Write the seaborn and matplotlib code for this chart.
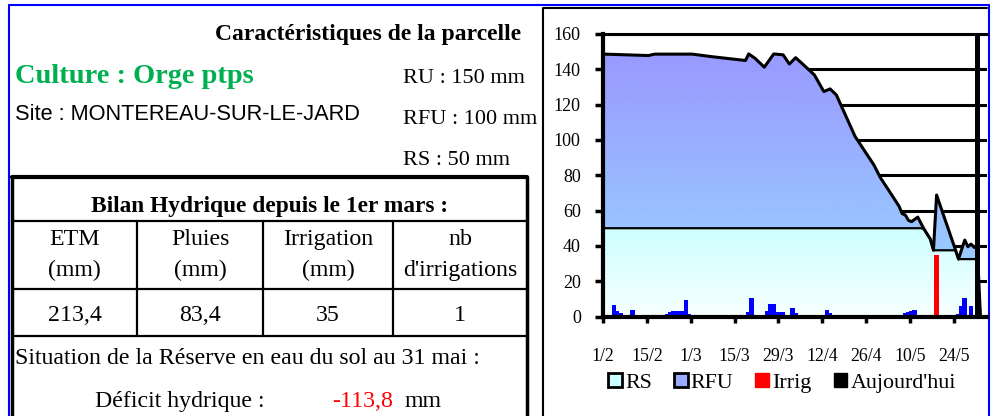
import numpy as np
import matplotlib
matplotlib.use("Agg")
import matplotlib.pyplot as plt
from matplotlib.colors import LinearSegmentedColormap
from matplotlib.patches import Patch
import seaborn as sns

# ---- values (day 0 = 1 February) ----
curve_day = [0, 14, 16, 28, 34, 45, 46, 48, 51, 54, 57, 59, 61, 63, 67, 70, 72, 74,
             80, 86, 88, 91, 94, 95, 96, 97, 98, 100, 101, 102, 104, 105, 106,
             112, 113, 114, 115, 116, 117, 118, 119, 120]
reserve_mm = [148.6, 147.8, 148.6, 148.6, 147.2, 145.0, 148.7, 146.3, 141.2, 148.7,
              148.2, 143.0, 146.6, 143.4, 136.8, 127.4, 128.9, 125.5, 101.9, 85.8,
              78.8, 70.7, 62.5, 58.3, 57.5, 54.5, 53.7, 56.3, 52.8, 49.5, 43.8,
              37.5, 68.8, 37.9, 32.5, 38.0, 43.3, 39.5, 41.0, 39.2, 38.6, 0.0]
rs_mm = [50.0] * 29 + [49.5, 43.8, 37.5, 37.5, 37.5, 32.5, 32.5, 32.5, 32.5,
                       32.5, 32.5, 32.5, 0.0]

rain_day = [1, 3, 4, 5, 9, 16, 17, 19, 20, 21, 22, 23, 24, 25, 26, 27, 46, 47, 52,
            53, 54, 55, 56, 57, 60, 61, 65, 71, 72, 87, 88, 89, 90, 96, 97, 98, 99,
            113, 114, 115, 117]
rain_mm = [1.0, 6.6, 3.2, 1.9, 3.6, 1.0, 1.0, 1.0, 1.5, 2.8, 3.2, 3.2, 3.2, 3.2, 9.2,
           1.3, 2.8, 10.2, 3.0, 6.8, 6.8, 2.4, 2.4, 2.4, 4.6, 1.9, 1.0, 3.5, 2.2, 1.0,
           1.0, 1.0, 1.0, 2.2, 2.8, 3.2, 3.8, 1.2, 6.2, 10.3, 5.8]
irrig_day = [106]
irrig_mm = [35]
today_day = [119]
today_mm = [160]

tick_day = [0, 14, 28, 42, 56, 70, 84, 98, 112]
tick_labels = ["1/2", "15/2", "1/3", "15/3", "29/3", "12/4", "26/4", "10/5", "24/5"]

bilan_head = ["ETM", "Pluies", "Irrigation", "nb"]
bilan_unit = ["(mm)", "(mm)", "(mm)", "d'irrigations"]
bilan_vals = ["213,4", "83,4", "35", "1"]

sns.set_theme(style="white")
plt.rcParams["font.family"] = ["Liberation Serif", "DejaVu Serif"]
plt.rcParams["text.color"] = "black"
plt.rcParams["xtick.color"] = "black"
plt.rcParams["ytick.color"] = "black"

W, H = 992, 416
fig = plt.figure(figsize=(W / 100, H / 100), dpi=100)

# background canvas in pixel coordinates for the dashboard part
bg = fig.add_axes([0, 0, 1, 1])
bg.set_xlim(0, W)
bg.set_ylim(H, 0)
bg.axis("off")

blue = "#0000FF"
bg.plot([9, 989], [4.5, 4.5], color=blue, lw=1.5)
bg.plot([9, 9], [4.5, H], color=blue, lw=1.5)
bg.plot([988.5, 988.5], [4.5, H], color=blue, lw=1.5)
bg.plot([543, 543, 987], [H, 8, 8], color="black", lw=1.5)

bg.text(521, 40, "Caractéristiques de la parcelle", ha="right", va="baseline",
        fontsize=17, fontweight="bold")
bg.text(15, 83, "Culture : Orge ptps", ha="left", va="baseline", fontsize=20.4,
        fontweight="bold", color="#00B050")
bg.text(15, 120, "Site : MONTEREAU-SUR-LE-JARD", ha="left", va="baseline",
        fontsize=15.7, family=["Liberation Sans", "DejaVu Sans"])
bg.text(403, 83, "RU : 150 mm", ha="left", va="baseline", fontsize=16)
bg.text(403, 124, "RFU : 100 mm", ha="left", va="baseline", fontsize=16)
bg.text(403, 165, "RS : 50 mm", ha="left", va="baseline", fontsize=16)

# water balance table
tl, tr, tt = 12, 527, 177
cols = [tl, 137, 263, 393, tr]
bg.plot([tl, tr], [tt, tt], color="black", lw=3)
bg.plot([tl, tl], [tt, H], color="black", lw=2.5)
bg.plot([tr, tr], [tt, H], color="black", lw=2.5)
for yy in [221, 289, 336]:
    bg.plot([tl, tr], [yy, yy], color="black", lw=1.6)
for xx in cols[1:-1]:
    bg.plot([xx, xx], [221, 336], color="black", lw=1.6)
bg.text((tl + tr) / 2, 212, "Bilan Hydrique depuis le 1er mars :", ha="center",
        va="baseline", fontsize=16.8, fontweight="bold")
for i in range(4):
    cx = (cols[i] + cols[i + 1]) / 2
    bg.text(cx, 245, bilan_head[i], ha="center", va="baseline", fontsize=17.2)
    bg.text(cx, 276, bilan_unit[i], ha="center", va="baseline", fontsize=17.2)
    bg.text(cx, 321, bilan_vals[i], ha="center", va="baseline", fontsize=17.2)
bg.text(15, 364, "Situation de la Réserve en eau du sol au 31 mai :", ha="left",
        va="baseline", fontsize=17.2)
bg.text(180, 407, "Déficit hydrique :", ha="center", va="baseline", fontsize=17.2)
bg.text(393, 407, "-113,8", ha="right", va="baseline", fontsize=17.2, color="#FF0000")
bg.text(405, 407, "mm", ha="left", va="baseline", fontsize=17.2)

# ---- soil water chart ----
ax = fig.add_axes([603 / W, 1 - 316.5 / H, (986.7 - 603) / W, (316.5 - 34) / H])
slot = 0.5  # points sit in the middle of their day
x = np.array(curve_day) + slot
top = np.array(reserve_mm)
rs = np.array(rs_mm)
xmax = 122.5

rfu_poly = ax.fill_between(x, rs, top, facecolor="none", edgecolor="none", lw=0)
rs_poly = ax.fill_between(x, 0, rs, facecolor="none", edgecolor="none", lw=0)


def gradient(coll, c_low, c_high, y0, y1):
    cmap = LinearSegmentedColormap.from_list("g", [c_low, c_high])
    im = ax.imshow(np.linspace(0, 1, 256).reshape(-1, 1), cmap=cmap, origin="lower",
                   extent=[0, xmax, y0, y1], aspect="auto", zorder=1,
                   interpolation="bilinear")
    im.set_clip_path(coll.get_paths()[0], transform=ax.transData)


gradient(rfu_poly, "#99CCFF", "#9999FF", 30, 150)
gradient(rs_poly, "#F8FFFF", "#CCFFFF", 0, 50)

sns.lineplot(x=x, y=rs, color="black", lw=1.6, ax=ax, estimator=None, sort=False,
             zorder=2)
sns.lineplot(x=x, y=top, color="black", lw=2.2, ax=ax, estimator=None, sort=False,
             zorder=2)

ax.bar(np.array(rain_day) + slot, rain_mm, width=1.5, color="#0000FF", lw=0, zorder=3)
ax.bar(np.array(irrig_day) + slot, irrig_mm, width=1.6, color="#FF0000", lw=0, zorder=3)
ax.bar(np.array(today_day) + slot, today_mm, width=1.7, color="black", lw=0, zorder=4)

ax.set_xlim(0, xmax)
ax.set_ylim(0, 160)
ax.set_yticks(range(0, 161, 20))
ax.yaxis.grid(True, color="black", lw=2.2)
ax.xaxis.grid(False)
ax.set_axisbelow(True)
ax.set_xticks(tick_day)
ax.set_xticklabels(tick_labels)
ax.set_xticks(np.arange(7, 121, 14), minor=True)
ax.tick_params(axis="x", which="major", direction="inout", length=9, width=2.5,
               color="black", pad=18, labelsize=12.8, bottom=True)
ax.tick_params(axis="x", which="minor", direction="in", length=3, width=2.5,
               color="black", bottom=True)
ax.tick_params(axis="y", which="major", direction="out", length=6, width=2.5,
               color="black", pad=10, labelsize=13, left=True)
for side in ["left", "bottom"]:
    ax.spines[side].set_color("black")
    ax.spines[side].set_linewidth(3)
    ax.spines[side].set_zorder(5)
ax.spines["top"].set_color("black")
ax.spines["top"].set_linewidth(2.2)
ax.spines["right"].set_visible(False)
ax.set_xlabel("")
ax.set_ylabel("")
ax.set_facecolor("white")

handles = [Patch(facecolor="#CCFFFF", edgecolor="black", lw=2, label="RS"),
           Patch(facecolor="#99AAFF", edgecolor="black", lw=2, label="RFU"),
           Patch(facecolor="#FF0000", edgecolor="#FF0000", label="Irrig"),
           Patch(facecolor="black", edgecolor="black", label="Aujourd'hui")]
fig.legend(handles=handles, ncol=4, loc="center", bbox_to_anchor=(782 / W, 1 - 383 / H),
           frameon=False, fontsize=15.8, handlelength=0.62, handleheight=0.62,
           handletextpad=0.15, columnspacing=1.0, borderpad=0)

fig.savefig("out.png", dpi=100)
